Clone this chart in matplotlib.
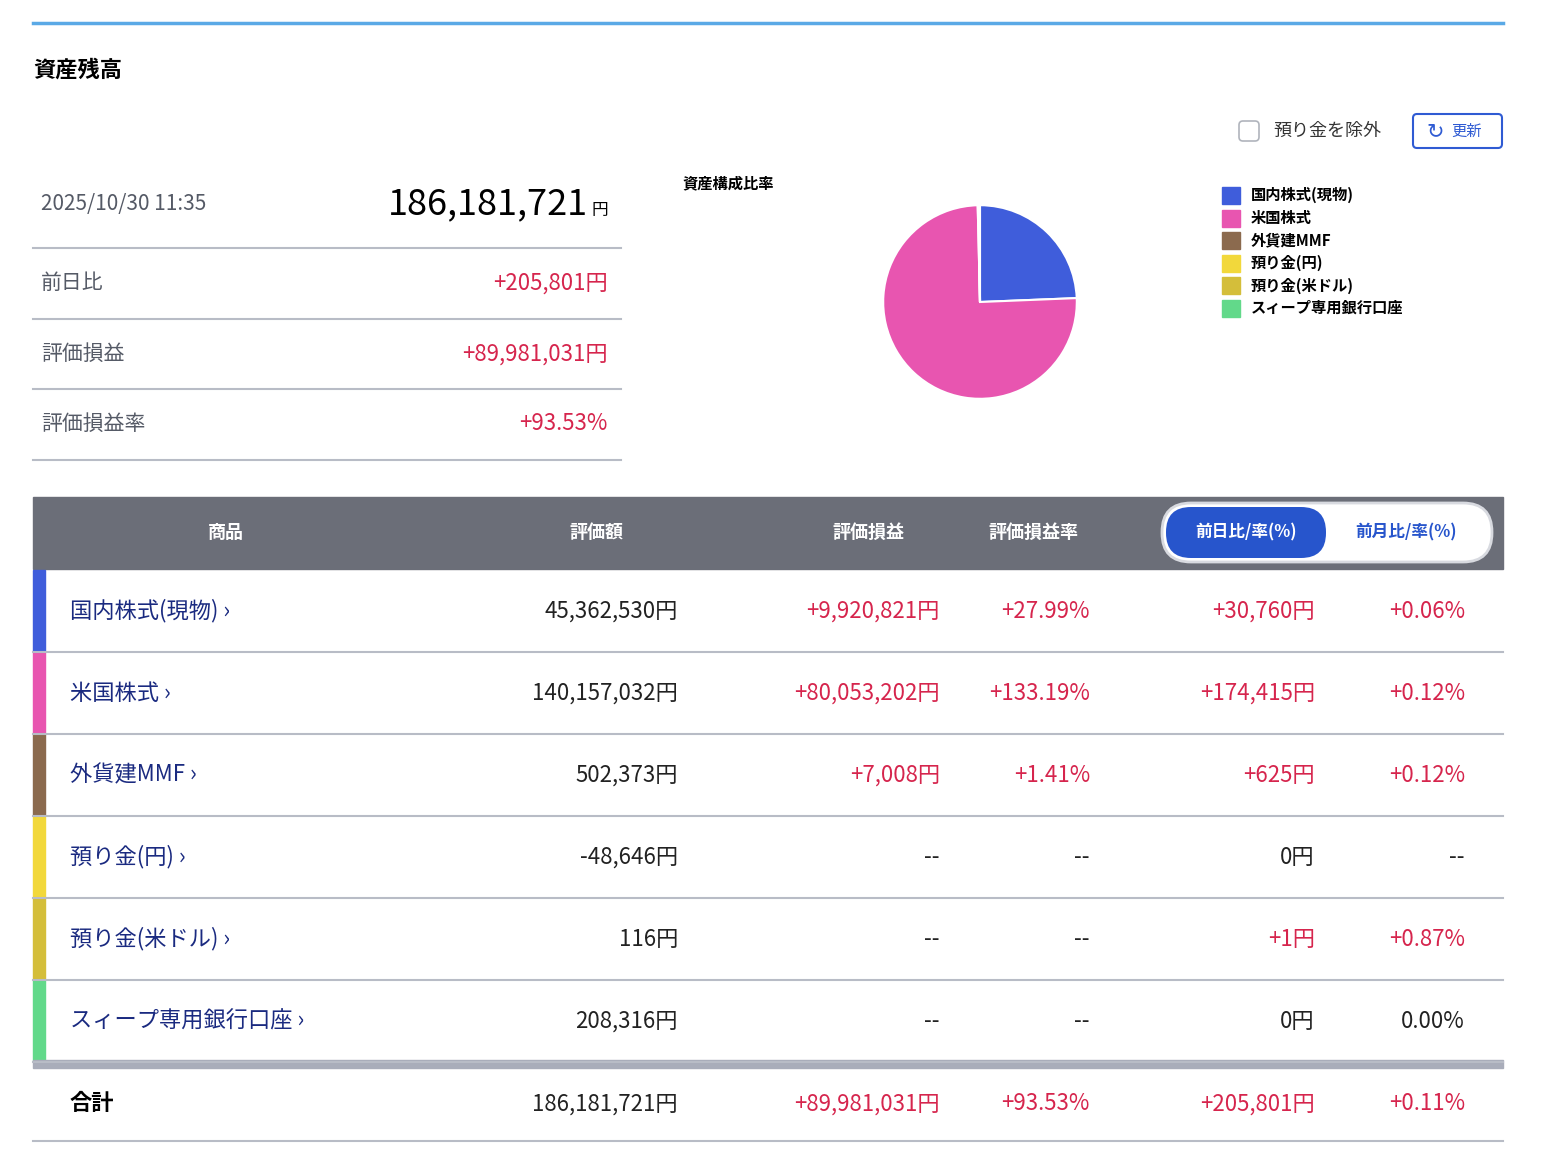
import matplotlib
matplotlib.use("Agg")
import matplotlib.pyplot as plt
from matplotlib.patches import Rectangle, FancyBboxPatch

plt.rcParams['font.family'] = ['Noto Sans CJK JP', 'DejaVu Sans']

categories = ["国内株式(現物)", "米国株式", "外貨建MMF", "預り金(円)", "預り金(米ドル)", "スィープ専用銀行口座"]
valuation = [45362530, 140157032, 502373, -48646, 116, 208316]
valuation_txt = ["45,362,530円", "140,157,032円", "502,373円", "-48,646円", "116円", "208,316円"]
pl_txt = ["+9,920,821円", "+80,053,202円", "+7,008円", "--", "--", "--"]
plrate_txt = ["+27.99%", "+133.19%", "+1.41%", "--", "--", "--"]
day_txt = ["+30,760円", "+174,415円", "+625円", "0円", "+1円", "0円"]
dayrate_txt = ["+0.06%", "+0.12%", "+0.12%", "--", "+0.87%", "0.00%"]
colors = ["#3F5DDB", "#E855B0", "#8B6A4E", "#F2D83B", "#D4BE3A", "#62D98A"]
total_txt = ["186,181,721円", "+89,981,031円", "+93.53%", "+205,801円", "+0.11%"]

RED = "#D6254D"; NAVY = "#1A2A80"; GRAY = "#555A66"; LINE = "#B8BCC6"

W, H = 1556, 1160
fig = plt.figure(figsize=(W/100, H/100), dpi=100)
ax = fig.add_axes([0, 0, 1, 1])
ax.set_xlim(0, W); ax.set_ylim(H, 0); ax.axis('off')

ax.plot([33, 1503], [23, 23], color="#5AA9E6", lw=2.5)
ax.text(33, 70, "資産残高", fontsize=16, fontweight='bold', va='center')

# summary
ax.text(41, 204, "2025/10/30 11:35", fontsize=15, color=GRAY, va='center')
ax.text(588, 204, "186,181,721", fontsize=26, va='center', ha='right')
ax.text(608, 210, "円", fontsize=12, va='center', ha='right')
for y in [248, 319, 389, 460]:
    ax.plot([33, 621], [y, y], color=LINE, lw=1.5)
for y, lab, val in [(283, "前日比", "+205,801円"), (354, "評価損益", "+89,981,031円"), (424, "評価損益率", "+93.53%")]:
    ax.text(41, y, lab, fontsize=15, color=GRAY, va='center')
    ax.text(608, y, val, fontsize=16, color=RED, va='center', ha='right')

# checkbox & button
ax.add_patch(FancyBboxPatch((1239, 121), 20, 20, boxstyle="round,pad=0,rounding_size=4", fc='white', ec='#B0B4BC', lw=1.2))
ax.text(1273, 131, "預り金を除外", fontsize=13, va='center', color='#333')
ax.add_patch(FancyBboxPatch((1413, 114), 89, 34, boxstyle="round,pad=0,rounding_size=4", fc='white', ec='#2F5BD3', lw=1.5))
ax.text(1435, 131, "↻", fontsize=15, va='center', ha='center', color='#2F5BD3', family='DejaVu Sans')
ax.text(1451, 131, "更新", fontsize=11, va='center', color='#2F5BD3')

ax.text(682, 183, "資産構成比率", fontsize=11, fontweight='bold', va='center')

# legend
for i, (c, n) in enumerate(zip(colors, categories)):
    y = 195 + i*22.6
    ax.add_patch(Rectangle((1222, y-8), 18, 17, color=c))
    ax.text(1251, y, n, fontsize=11, fontweight='bold', va='center')

# pie
pax = fig.add_axes([(980-121)/W, 1-(302+121)/H, 242/W, 242/H])
pie_vals = [max(v, 0) for v in valuation]
pax.pie(pie_vals, colors=colors, startangle=90, counterclock=False,
        wedgeprops=dict(edgecolor='white', linewidth=1.5))
pax.set_aspect('equal')

# table header
ax.add_patch(Rectangle((33, 497), 1470, 72, color="#6B6E78"))
for x, t in [(226, "商品"), (596, "評価額"), (868, "評価損益"), (1033, "評価損益率")]:
    ax.text(x, 532, t, fontsize=13, fontweight='bold', color='white', va='center', ha='center')
ax.add_patch(FancyBboxPatch((1162, 503), 330, 59, boxstyle="round,pad=0,rounding_size=29", fc='white', ec='#D8DAE0', lw=2))
ax.add_patch(FancyBboxPatch((1166, 507), 160, 51, boxstyle="round,pad=0,rounding_size=25", fc='#2755CC', ec='none'))
ax.text(1246, 532, "前日比/率(%)", fontsize=12, fontweight='bold', color='white', va='center', ha='center')
ax.text(1406, 532, "前月比/率(%)", fontsize=12, fontweight='bold', color='#2755CC', va='center', ha='center')

# rows
for i in range(6):
    top = 570 + i*82
    yc = top + 41
    ax.add_patch(Rectangle((33, top), 12, 82, color=colors[i]))
    ax.plot([33, 1503], [top+82, top+82], color=LINE, lw=1.5)
    ax.text(70, yc, categories[i] + " ›", fontsize=16, color=NAVY, va='center')
    ax.text(678, yc, valuation_txt[i], fontsize=16, color='#222', va='center', ha='right')
    for x, t in [(940, pl_txt[i]), (1090, plrate_txt[i]), (1315, day_txt[i]), (1465, dayrate_txt[i])]:
        col = RED if t.startswith('+') else '#222'
        ax.text(x, yc, t, fontsize=16, color=col, va='center', ha='right')

ax.add_patch(Rectangle((33, 1060), 1470, 8, color="#A9ADBA"))
ax.text(70, 1104, "合計", fontsize=16, fontweight='bold', va='center')
for x, t in zip([678, 940, 1090, 1315, 1465], total_txt):
    ax.text(x, 1104, t, fontsize=16, color=RED if t.startswith('+') else '#222', va='center', ha='right')
ax.plot([33, 1503], [1141, 1141], color=LINE, lw=1.5)

fig.savefig("out.png", dpi=100, facecolor='white')
